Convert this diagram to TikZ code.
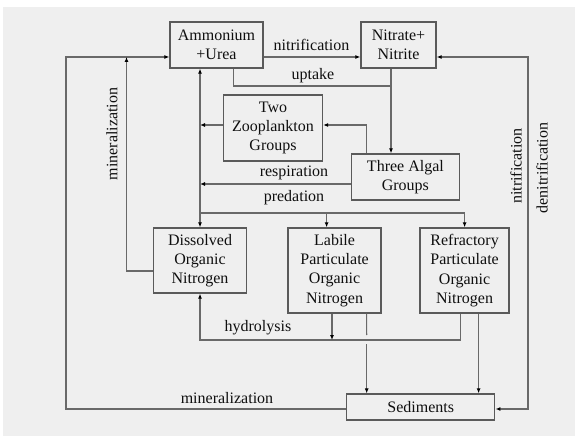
\documentclass[tikz,border=0pt]{standalone}
\usepackage{fontspec}
\setmainfont{Liberation Serif}
\usetikzlibrary{arrows.meta, positioning, calc}
\definecolor{bg}{RGB}{239,239,239}
\definecolor{linegray}{RGB}{105,105,105}
\definecolor{boxgray}{RGB}{90,90,90}
\definecolor{ink}{RGB}{15,15,15}

\begin{document}
\begin{tikzpicture}[x=1pt, y=-1pt, font=\fontsize{16}{19.3}\selectfont, text=ink,
    box/.style={draw=boxgray, line width=1.3pt, fill=bg, align=center, inner sep=0pt},
    flow/.style={draw=linegray, line width=1.1pt},
    tip/.style={-{Latex[length=5pt,width=4pt,color=black]}},
    tips/.style={{Latex[length=5pt,width=4pt,color=black]}-{Latex[length=5pt,width=4pt,color=black]}}]
        \useasboundingbox (0,0) rectangle (575,438);
        \fill[bg] (3,7) rectangle (575,436);

        \node[box, minimum width=93pt, minimum height=46pt]  (amm) at (216.5,45)  {Ammonium\\+Urea};          %top left
        \node[box, minimum width=75pt, minimum height=46pt]  (nit) at (398.5,45)  {Nitrate+\\Nitrite};        %top right
        \node[box, minimum width=99pt, minimum height=66pt]  (zoo) at (273,128)   {Two\\Zooplankton\\Groups};  %grazers
        \node[box, minimum width=108pt, minimum height=46pt] (alg) at (405.4,177) {Three Algal\\Groups};      %algae
        \node[box, minimum width=93pt, minimum height=65pt]  (don) at (200,260.5) {Dissolved\\Organic\\Nitrogen};
        \node[box, minimum width=93pt, minimum height=85pt]  (lab) at (334.6,270.5) {Labile\\Particulate\\Organic\\Nitrogen};
        \node[box, minimum width=89pt, minimum height=85pt]  (ref) at (464.6,270.5) {Refractory\\Particulate\\Organic\\Nitrogen};
        \node[box, minimum width=148pt, minimum height=26pt] (sed) at (420.8,407) {Sediments};               %bottom

        \coordinate (loopL) at (66,57);     %left loop corner
        \coordinate (loopR) at (528,57);    %right loop corner
        \coordinate (minT)  at (126.5,57);  %mineralization top
        \coordinate (hub)   at (200,213);   %predation split
        \coordinate (upt)   at (391,86);    %uptake corner
        \coordinate (hyd)   at (200,340);   %hydrolysis corner
        \coordinate (gapT)  at (366.7,335); %line hop top
        \coordinate (gapB)  at (366.7,344); %line hop bottom

        \draw[flow, tip]  ([yshift=-2pt]sed.west) -| (loopL) -- ([yshift=-12pt]amm.west);   %left loop
        \draw[flow, tip]  ([yshift=-10.5pt]don.west) -| (minT);                              %mineralization
        \draw[flow, tip]  ([yshift=-12pt]amm.east) -- ([yshift=-12pt]nit.west);              %nitrification
        \draw[flow, tips] ([yshift=-12pt]nit.east) -- (loopR) |- ([yshift=-2pt]sed.east);    %right loop
        \draw[flow]       ([xshift=17pt]amm.south) |- (upt);                                 %uptake
        \draw[flow, tip]  ([xshift=-7.5pt]nit.south) -- (upt) -- (alg.north -| upt);
        \draw[flow, tip]  ([xshift=-39pt]alg.north) |- ([yshift=3pt]zoo.east);               %grazing
        \draw[flow, tip]  ([yshift=3pt]zoo.west) -- ([yshift=3pt]zoo.west -| hub);
        \draw[flow, tip]  ([yshift=-7pt]alg.west) -- ([yshift=-7pt]alg.west -| hub);         %respiration
        \draw[flow, tip]  (hub) -- (hub |- amm.south);
        \draw[flow, tip]  (hub) -- (don.north);                                              %predation
        \draw[flow]       (hub) -- (hub -| ref.north);
        \draw[flow, tip]  ([xshift=-8pt]lab.north |- hub) -- ([xshift=-8pt]lab.north);
        \draw[flow, tip]  (hub -| ref.north) -- (ref.north);
        \draw[flow, tip]  ([xshift=-4.5pt]ref.south) |- (hyd) -- (don.south);                %hydrolysis
        \draw[flow, tip]  ([xshift=-2.6pt]lab.south) -- ([xshift=-2.6pt]lab.south |- hyd);
        \draw[flow]       ([xshift=32pt]lab.south) -- (gapT);                                %settling
        \draw[flow, tip]  (gapB) -- (gapB |- sed.north);
        \draw[flow, tip]  ([xshift=14pt]ref.south) -- ([xshift=14pt]ref.south |- sed.north);

        \node (lnit)  at (311.5,45) {nitrification};
        \node (lupt)  at (313,76)   {uptake};
        \node (lres)  at (294,173)  {respiration};
        \node (lpre)  at (294,198)  {predation};
        \node (lhyd)  at (258,328)  {hydrolysis};
        \node (lmin)  at (227,398)  {mineralization};
        \node[rotate=90] (lmin2) at (112,134) {mineralization};
        \node[rotate=90] (lnit2) at (516,166) {nitrification};
        \node[rotate=90] (lden)  at (542,168) {denitrification};
      \end{tikzpicture}
\end{document}
